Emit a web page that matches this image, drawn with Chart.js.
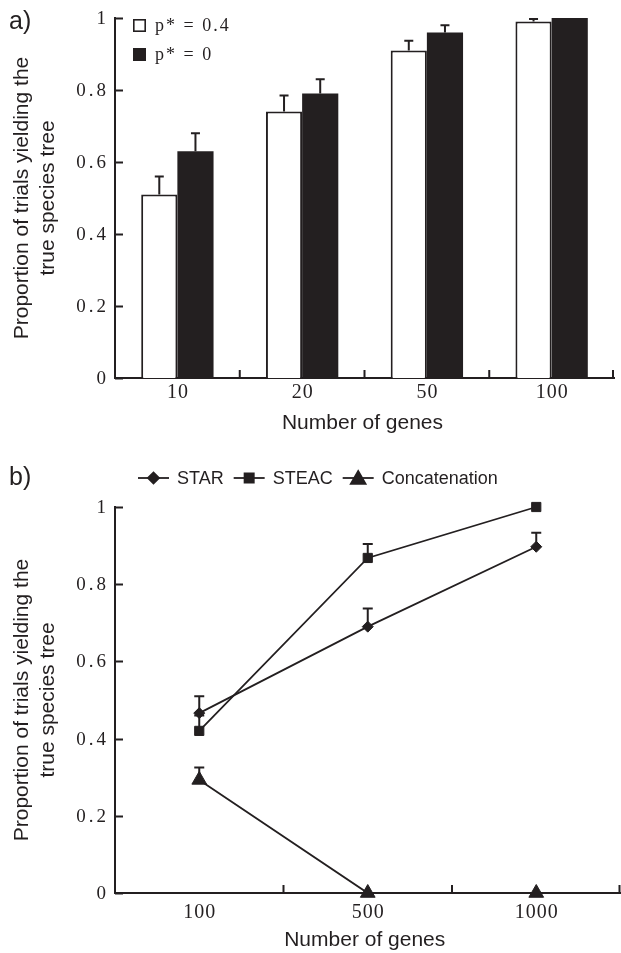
<!DOCTYPE html>
<html>
<head>
<meta charset="utf-8">
<script src="https://cdn.jsdelivr.net/npm/chart.js@4.4.1/dist/chart.umd.min.js"></script>
<style>
    html, body { margin: 0; padding: 0; background: #fff; overflow: hidden; width: 621px; height: 953px; }
    #wrapA { position: absolute; left: 0; top: 0; width: 621px; height: 440px; }
    #wrapB { position: absolute; left: 0; top: 440px; width: 630px; height: 513px; }
</style>
</head>
<body>
<div id="wrapA"><canvas id="chartA" width="621" height="440"></canvas></div>
<div id="wrapB"><canvas id="chartB" width="630" height="513"></canvas></div>
<script>
(function () {
    "use strict";

    var INK = "#231f20";
    var SANS = "'Liberation Sans', Arial, sans-serif";
    var SERIF = "'Liberation Serif', 'Times New Roman', serif";

    // a) bars: proportion per number of genes, upper error (added to value)
    var genesA = ["10", "20", "50", "100"];
    var pStar04 = [0.51, 0.74, 0.91, 0.99];
    var pStar04Err = [0.05, 0.045, 0.027, 0.007];
    var pStar0 = [0.63, 0.79, 0.96, 1.0];
    var pStar0Err = [0.05, 0.04, 0.02, 0.0];

    // b) lines
    var genesB = ["100", "500", "1000"];
    var star = [0.466, 0.69, 0.897];
    var starErr = [0.044, 0.047, 0.036];
    var steac = [0.42, 0.868, 1.0];
    var steacErr = [0.04, 0.036, 0.0];
    var concat = [0.293, 0, 0];
    var concatErr = [0.032, 0, 0];

    var yTicks = [0, 0.2, 0.4, 0.6, 0.8, 1];
    var yTitle = ["Proportion of trials yielding the", "true species tree"];
    var xTitle = "Number of genes";


    // Axes decoration, error bars, titles and legends
    var framePlugin = {
        id: "frame",
        afterDatasetsDraw: function (chart, args, opts) {
            var ctx = chart.ctx;
            var y = chart.scales.y;
            ctx.save();
            ctx.strokeStyle = INK;
            ctx.lineWidth = 2;
            opts.errors.forEach(function (err, di) {
                var meta = chart.getDatasetMeta(di);
                var data = chart.data.datasets[di].data;
                meta.data.forEach(function (el, i) {
                    if (!err[i]) return;
                    var y0 = y.getPixelForValue(data[i]);
                    var y1 = y.getPixelForValue(data[i] + err[i]);
                    ctx.beginPath();
                    ctx.moveTo(el.x, y0);
                    ctx.lineTo(el.x, y1);
                    ctx.moveTo(el.x - opts.cap / 2, y1);
                    ctx.lineTo(el.x + opts.cap / 2, y1);
                    ctx.stroke();
                });
            });
            ctx.restore();
        },
        afterDraw: function (chart, args, opts) {
            var ctx = chart.ctx;
            var area = chart.chartArea;
            var x = chart.scales.x;
            var y = chart.scales.y;
            ctx.save();
            ctx.strokeStyle = INK;
            ctx.fillStyle = INK;
            ctx.lineWidth = 2;

            // y ticks pointing inwards + labels
            ctx.beginPath();
            yTicks.forEach(function (v) {
                var py = Math.round(y.getPixelForValue(v)) + 0.5;
                ctx.moveTo(area.left, py);
                ctx.lineTo(area.left + 8, py);
            });
            // x ticks between categories
            var n = chart.data.labels.length;
            for (var i = 0; i < n; i++) {
                var px = i < n - 1 ? (x.getPixelForValue(i) + x.getPixelForValue(i + 1)) / 2 : area.right - 1;
                ctx.moveTo(px, area.bottom);
                ctx.lineTo(px, area.bottom - 8);
            }
            ctx.stroke();

            ctx.font = "19px " + SERIF;
            ctx.letterSpacing = "3px";
            ctx.textAlign = "right";
            ctx.textBaseline = "middle";
            yTicks.forEach(function (v) {
                ctx.fillText(String(v), area.left - 6, y.getPixelForValue(v) + 1);
            });

            ctx.font = "20px " + SERIF;
            ctx.letterSpacing = "1px";
            ctx.textAlign = "center";
            chart.data.labels.forEach(function (lab, i) {
                ctx.fillText(lab, x.getPixelForValue(i) + 0.5, opts.labelY);
            });
            ctx.letterSpacing = "0px";

            // axis titles
            ctx.font = "21px " + SANS;
            ctx.fillText(xTitle, (area.left + area.right) / 2 - opts.titleShift, opts.titleY);
            ctx.save();
            ctx.translate(0, (area.top + area.bottom) / 2);
            ctx.rotate(-Math.PI / 2);
            ctx.fillText(yTitle[0], 0, 22);
            ctx.fillText(yTitle[1], 0, 48);
            ctx.restore();

            // panel letter
            ctx.font = "25px " + SANS;
            ctx.textAlign = "left";
            ctx.fillText(opts.panel, 9, opts.panelY);

            opts.legend(ctx, chart);
            ctx.restore();
        }
    };


    // Legend for a)
    function legendA(ctx, chart) {
        var sets = chart.data.datasets;
        [19, 48].forEach(function (top, i) {
            ctx.fillStyle = i === 0 ? "#fff" : INK;
            ctx.fillRect(133, top, 13, 13);
            ctx.lineWidth = 1.6;
            ctx.strokeRect(133.8, top + 0.8, 11.4, 11.4);
            ctx.fillStyle = INK;
            ctx.font = "18px " + SERIF;
            ctx.letterSpacing = "2px";
            ctx.textAlign = "left";
            ctx.fillText(sets[i].label, 155, top + 7);
        });
        ctx.letterSpacing = "0px";
    }


    // Legend for b)
    function legendB(ctx, chart) {
        var cx = 138, cy = 38;
        ctx.font = "18px " + SANS;
        ctx.textAlign = "left";
        chart.data.datasets.forEach(function (ds) {
            ctx.lineWidth = 1.8;
            ctx.beginPath();
            ctx.moveTo(cx, cy);
            ctx.lineTo(cx + 31, cy);
            ctx.stroke();
            Chart.helpers.drawPoint(ctx, {
                pointStyle: ds.pointStyle, radius: ds.pointRadius, rotation: 0, borderWidth: 1
            }, cx + 15.5, cy + (ds.pointStyle === "triangle" ? 1.5 : 0));
            ctx.fillText(ds.label, cx + 39, cy + 1);
            cx += 39 + ctx.measureText(ds.label).width + 10;
        });
    }


    // a) Bar chart
    new Chart(document.getElementById("chartA"), {
        type: "bar",
        data: {
            labels: genesA,
            datasets: [{
                label: "p* = 0.4",
                data: pStar04,
                backgroundColor: "#fff",
                borderColor: INK,
                borderWidth: 2,
                categoryPercentage: 0.58,
                barPercentage: 1
            }, {
                label: "p* = 0",
                data: pStar0,
                backgroundColor: INK,
                borderWidth: 0,
                categoryPercentage: 0.58,
                barPercentage: 1
            }]
        },
        options: {
            responsive: false,
            animation: false,
            layout: {padding: {left: 0, right: 7, top: 18, bottom: 0}},
            scales: {
                x: {
                    grid: {display: false},
                    ticks: {display: false},
                    border: {color: INK, width: 2},
                    afterFit: function (s) { s.height = 62; }
                },
                y: {
                    min: 0, max: 1,
                    grid: {display: false},
                    ticks: {display: false},
                    border: {color: INK, width: 2},
                    afterFit: function (s) { s.width = 115; }
                }
            },
            plugins: {
                legend: {display: false},
                tooltip: {enabled: false},
                frame: {
                    errors: [pStar04Err, pStar0Err],
                    cap: 9,
                    labelY: 393,
                    titleY: 423,
                    titleShift: 2,
                    panel: "a)",
                    panelY: 22,
                    legend: legendA
                }
            }
        },
        plugins: [framePlugin]
    });


    // b) Line chart
    var lineStyle = {
        borderColor: INK,
        backgroundColor: INK,
        borderWidth: 1.8,
        pointBackgroundColor: INK,
        pointBorderColor: INK,
        pointBorderWidth: 1,
        tension: 0,
        clip: false
    };
    new Chart(document.getElementById("chartB"), {
        type: "line",
        data: {
            labels: genesB,
            datasets: [
                Object.assign({label: "STAR", data: star, pointStyle: "rectRot", pointRadius: 5.5}, lineStyle),
                Object.assign({label: "STEAC", data: steac, pointStyle: "rect", pointRadius: 6.5}, lineStyle),
                Object.assign({label: "Concatenation", data: concat, pointStyle: "triangle", pointRadius: 8.5}, lineStyle)
            ]
        },
        options: {
            responsive: false,
            animation: false,
            layout: {padding: {left: 0, right: 4, top: 67, bottom: 0}},
            scales: {
                x: {
                    offset: true,
                    grid: {display: false},
                    ticks: {display: false},
                    border: {color: INK, width: 2},
                    afterFit: function (s) { s.height = 60; }
                },
                y: {
                    min: 0, max: 1,
                    grid: {display: false},
                    ticks: {display: false},
                    border: {color: INK, width: 2},
                    afterFit: function (s) { s.width = 115; }
                }
            },
            plugins: {
                legend: {display: false},
                tooltip: {enabled: false},
                frame: {
                    errors: [starErr, steacErr, concatErr],
                    cap: 10,
                    labelY: 473,
                    titleY: 500,
                    titleShift: 3,
                    panel: "b)",
                    panelY: 38,
                    legend: legendB
                }
            }
        },
        plugins: [framePlugin]
    });

})();
</script>
</body>
</html>
